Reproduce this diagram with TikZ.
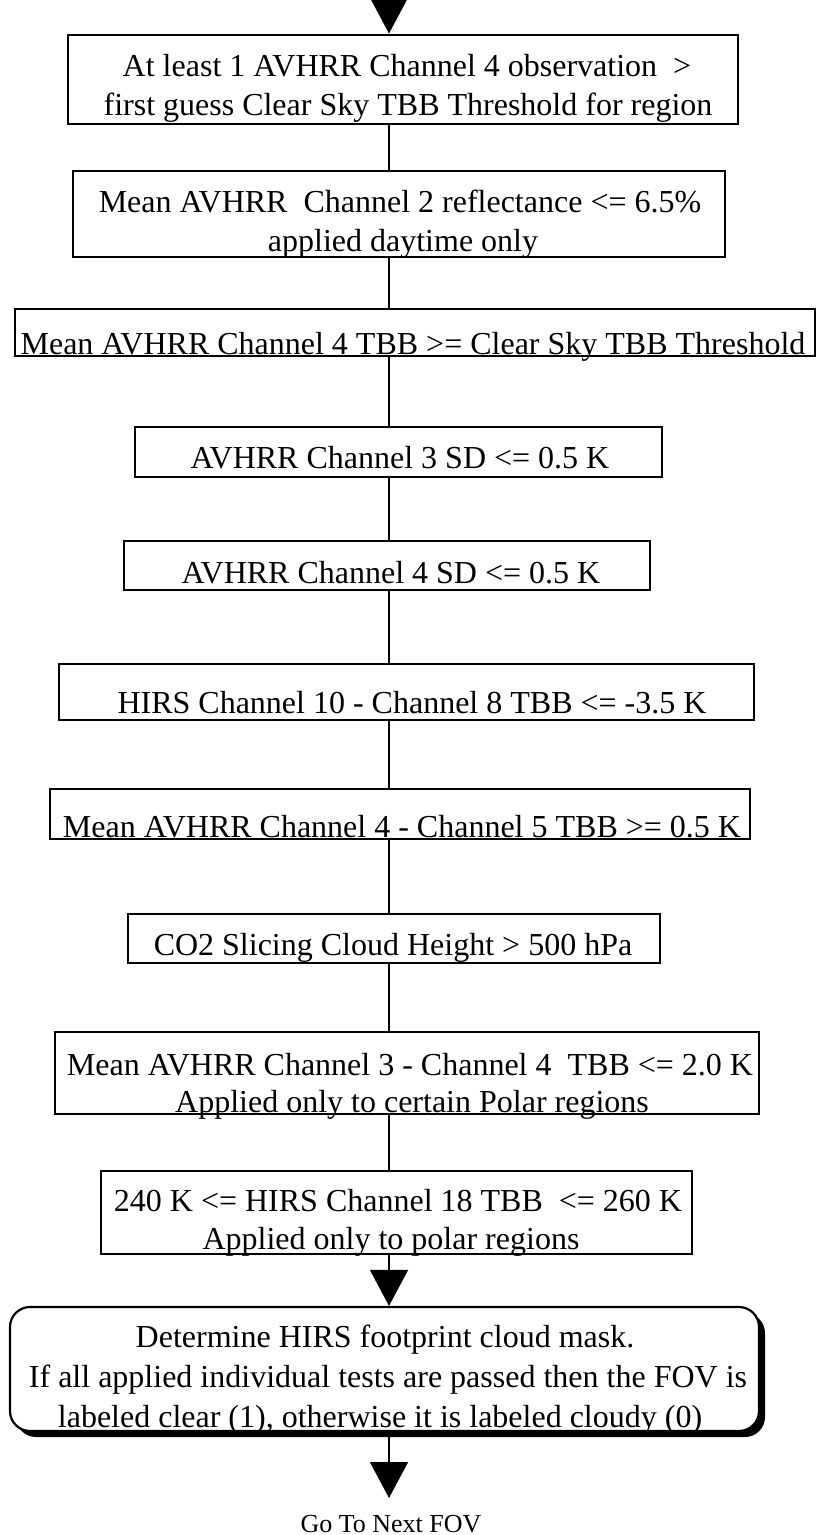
\documentclass[tikz,border=0pt]{standalone}
\usepackage{fontspec}
\setmainfont{Liberation Serif}
\usetikzlibrary{arrows.meta,shadows}
\begin{document}
\begin{tikzpicture}[x=1pt,y=-1pt,
  box/.style={draw,line width=2pt,inner sep=0pt,fill=white},
  rbox/.style={draw,line width=2.2pt,inner sep=0pt,fill=white,rounded corners=20pt,
     drop shadow={shadow xshift=6pt,shadow yshift=-6pt,fill=black,opacity=1}},
  txt/.style={inner sep=0pt,anchor=base,font=\fontsize{32}{38}\selectfont},
  small/.style={inner sep=0pt,anchor=base,font=\fontsize{26}{30}\selectfont},
  conn/.style={line width=1.6pt},
  arr/.style={line width=1.6pt,-{Triangle[length=36pt,width=38pt]}}]
\useasboundingbox (0,0) rectangle (817,1535);
\coordinate (ax) at (389,0);
\coordinate (start) at (389,-20);
% boxes
\node[box,minimum width=670pt,minimum height=89pt] (b1) at (403,79) {};
\node[box,minimum width=652pt,minimum height=86pt] (b2) at (399,214) {};
\node[box,minimum width=800pt,minimum height=47pt] (b3) at (415,332.5) {};
\node[box,minimum width=527pt,minimum height=50pt] (b4) at (398.5,452) {};
\node[box,minimum width=526pt,minimum height=49pt] (b5) at (387,565.5) {};
\node[box,minimum width=695pt,minimum height=56pt] (b6) at (406.5,692) {};
\node[box,minimum width=700pt,minimum height=50pt] (b7) at (400,814) {};
\node[box,minimum width=532pt,minimum height=49pt] (b8) at (394,938.5) {};
\node[box,minimum width=704pt,minimum height=82pt] (b9) at (407,1073) {};
\node[box,minimum width=591pt,minimum height=83pt] (b10) at (396.5,1212) {};
\node[rbox,minimum width=749pt,minimum height=124pt] (b11) at (384.5,1369) {};
\coordinate (end) at (389,1498);
% texts
\node[txt] (t1a) at (407,76) {At least 1 AVHRR Channel 4 observation\ \ >};
\node[txt] (t1b) at (408,115) {first guess Clear Sky TBB Threshold for region};
\node[txt] (t2a) at (400,212) {Mean AVHRR\ \ Channel 2 reflectance <= 6.5\%};
\node[txt] (t2b) at (403,251) {applied daytime only};
\node[txt] (t3) at (413,354) {Mean AVHRR Channel 4 TBB >= Clear Sky TBB Threshold};
\node[txt] (t4) at (400,468) {AVHRR Channel 3 SD <= 0.5 K};
\node[txt] (t5) at (391,583) {AVHRR Channel 4 SD <= 0.5 K};
\node[txt] (t6) at (412,713) {HIRS Channel 10 - Channel 8 TBB <= -3.5 K};
\node[txt] (t7) at (402,837) {Mean AVHRR Channel 4 - Channel 5 TBB >= 0.5 K};
\node[txt] (t8) at (393,955) {CO2 Slicing Cloud Height > 500 hPa};
\node[txt] (t9a) at (410,1075) {Mean AVHRR Channel 3 - Channel 4\ \ TBB <= 2.0 K};
\node[txt] (t9b) at (412,1112) {Applied only to certain Polar regions};
\node[txt] (t10a) at (398,1211) {240 K <= HIRS Channel 18 TBB\ \ <= 260 K};
\node[txt] (t10b) at (391,1249) {Applied only to polar regions};
\node[txt] (t11a) at (385,1347) {Determine HIRS footprint cloud mask.};
\node[txt] (t11b) at (388,1387) {If all applied individual tests are passed then the FOV is};
\node[txt] (t11c) at (380,1427) {labeled clear (1), otherwise it is labeled cloudy (0)};
\node[small] (go) at (391,1532) {Go To Next FOV};
% connectors
\draw[arr] (start) -- (b1.north -| ax);
\draw[conn] (b1.south -| ax) -- (b2.north -| ax);
\draw[conn] (b2.south -| ax) -- (b3.north -| ax);
\draw[conn] (b3.south -| ax) -- (b4.north -| ax);
\draw[conn] (b4.south -| ax) -- (b5.north -| ax);
\draw[conn] (b5.south -| ax) -- (b6.north -| ax);
\draw[conn] (b6.south -| ax) -- (b7.north -| ax);
\draw[conn] (b7.south -| ax) -- (b8.north -| ax);
\draw[conn] (b8.south -| ax) -- (b9.north -| ax);
\draw[conn] (b9.south -| ax) -- (b10.north -| ax);
\draw[arr] (b10.south -| ax) -- (b11.north -| ax);
\draw[arr] (b11.south -| ax) -- (end);
\end{tikzpicture}
\end{document}
